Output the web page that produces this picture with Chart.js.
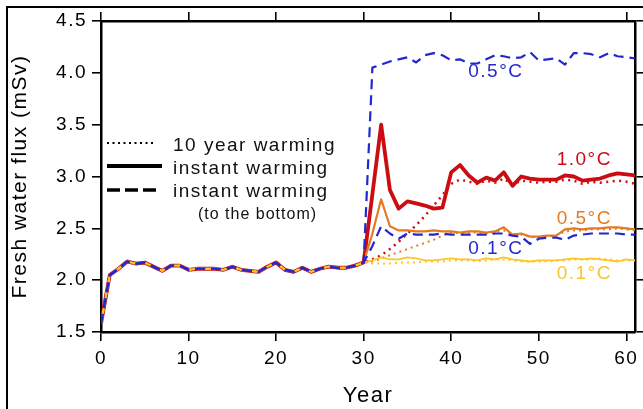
<!DOCTYPE html>
<html>
<head>
<meta charset="utf-8">
<script src="https://cdn.jsdelivr.net/npm/chart.js@4.4.1/dist/chart.umd.min.js"></script>
<style>
  html, body { margin: 0; padding: 0; background: #fff; }
</style>
</head>
<body>
<canvas id="myChart" width="643" height="409"></canvas>
<script>
// years on the x axis
const years = [0, 1, 2, 3, 4, 5, 6, 7, 8, 9, 10, 11, 12, 13, 14, 15, 16, 17, 18, 19, 20,
  21, 22, 23, 24, 25, 26, 27, 28, 29, 30, 31, 32, 33, 34, 35, 36, 37, 38, 39, 40,
  41, 42, 43, 44, 45, 46, 47, 48, 49, 50, 51, 52, 53, 54, 55, 56, 57, 58, 59, 60, 61];
const xTicks = [0, 10, 20, 30, 40, 50, 60];
const yTicks = [1.5, 2.0, 2.5, 3.0, 3.5, 4.0, 4.5];

// control run, years 0-30 (shared by every experiment)
const baseline = [1.58, 2.05, 2.11, 2.18, 2.16, 2.17, 2.13, 2.09, 2.14, 2.14, 2.10,
  2.11, 2.11, 2.11, 2.10, 2.13, 2.10, 2.09, 2.08, 2.13, 2.17,
  2.10, 2.08, 2.12, 2.08, 2.11, 2.13, 2.12, 2.12, 2.14, 2.17];

// years 31-61
const instant10 = [2.83, 3.50, 2.87, 2.69, 2.76, 2.74, 2.72, 2.69, 2.70, 3.04,
  3.11, 3.01, 2.94, 2.99, 2.96, 3.04, 2.91, 3.00, 2.98, 2.97,
  2.97, 2.97, 3.01, 3.00, 2.96, 2.97, 2.98, 3.01, 3.03, 3.02, 3.01];
const ramp10 = [2.20, 2.24, 2.30, 2.37, 2.45, 2.53, 2.62, 2.72, 2.82, 2.93,
  2.97, 2.95, 2.93, 2.96, 2.94, 2.98, 2.92, 2.96, 2.95, 2.94,
  2.95, 2.95, 2.97, 2.96, 2.93, 2.95, 2.94, 2.95, 2.96, 2.95, 2.93];
const instant05 = [2.45, 2.78, 2.52, 2.48, 2.48, 2.47, 2.47, 2.48, 2.47, 2.47,
  2.46, 2.47, 2.47, 2.46, 2.47, 2.51, 2.44, 2.45, 2.42, 2.42,
  2.43, 2.43, 2.49, 2.50, 2.49, 2.50, 2.50, 2.51, 2.51, 2.50, 2.49];
const ramp05 = [2.18, 2.21, 2.24, 2.27, 2.30, 2.33, 2.36, 2.39, 2.43, 2.46,
  2.45, 2.46, 2.46, 2.45, 2.46, 2.48, 2.44, 2.44, 2.42, 2.41,
  2.42, 2.43, 2.47, 2.48, 2.48, 2.49, 2.49, 2.49, 2.50, 2.49, 2.48];
const instant01 = [2.19, 2.22, 2.20, 2.20, 2.22, 2.21, 2.19, 2.19, 2.20, 2.21,
  2.20, 2.20, 2.19, 2.21, 2.20, 2.22, 2.20, 2.19, 2.18, 2.19,
  2.19, 2.19, 2.20, 2.21, 2.20, 2.21, 2.20, 2.19, 2.18, 2.20, 2.19];
const ramp01 = [2.16, 2.16, 2.16, 2.17, 2.17, 2.17, 2.18, 2.18, 2.18, 2.19,
  2.19, 2.19, 2.18, 2.19, 2.20, 2.20, 2.19, 2.18, 2.18, 2.18,
  2.18, 2.19, 2.19, 2.20, 2.20, 2.20, 2.21, 2.20, 2.19, 2.19, 2.19];
const bottom05 = [4.05, 4.08, 4.11, 4.13, 4.15, 4.10, 4.17, 4.19, 4.17, 4.12,
  4.13, 4.09, 4.09, 4.13, 4.17, 4.16, 4.14, 4.15, 4.20, 4.12,
  4.13, 4.14, 4.08, 4.19, 4.19, 4.18, 4.15, 4.19, 4.16, 4.15, 4.14];
const bottom01 = [2.33, 2.52, 2.45, 2.40, 2.45, 2.44, 2.44, 2.44, 2.45, 2.44,
  2.44, 2.44, 2.44, 2.44, 2.45, 2.45, 2.43, 2.42, 2.35, 2.40,
  2.41, 2.41, 2.39, 2.43, 2.44, 2.45, 2.45, 2.45, 2.45, 2.44, 2.44];

// curve labels: text, year, value
const curveLabels = ["0.5°C", "1.0°C", "0.5°C", "0.1°C", "0.1°C"];
const curveLabelX = [45.1, 55.2, 55.2, 45.1, 55.2];
const curveLabelY = [4.01, 3.16, 2.59, 2.30, 2.06];

const RED = "rgb(204, 12, 18)";
const ORANGE = "rgb(228, 122, 34)";
const YELLOW = "rgb(250, 198, 40)";
const BLUE = "rgb(34, 40, 206)";
const curveLabelColor = [BLUE, RED, ORANGE, BLUE, YELLOW];

const FONT = "'Liberation Sans', Arial, Helvetica, sans-serif";

function series(after) {
  return baseline.concat(after);
}

const datasets = [
  { data: series(bottom05), borderColor: BLUE, borderWidth: 2.2, borderDash: [10, 6], order: 0 },
  { data: series(bottom01), borderColor: BLUE, borderWidth: 2.2, borderDash: [10, 6], order: 1 },
  { data: series(ramp01), borderColor: YELLOW, borderWidth: 2, borderDash: [2, 4], order: 2 },
  { data: series(instant01), borderColor: YELLOW, borderWidth: 1.8, order: 3 },
  { data: series(ramp05), borderColor: ORANGE, borderWidth: 2, borderDash: [2, 4], order: 4 },
  { data: series(instant05), borderColor: ORANGE, borderWidth: 2.2, order: 5 },
  { data: series(ramp10), borderColor: RED, borderWidth: 2.5, borderDash: [2, 4.5], order: 6 },
  { data: series(instant10), borderColor: RED, borderWidth: 3.8, order: 7 },
];

const extras = {
  id: "extras",
  beforeDraw(chart) {
    chart.ctx.letterSpacing = "1.5px";
  },
  afterDatasetsDraw(chart) {
    const ctx = chart.ctx;
    const x = chart.scales.x, y = chart.scales.y;
    ctx.save();
    ctx.font = "19px " + FONT;
    ctx.textAlign = "center";
    ctx.textBaseline = "middle";
    for (let i = 0; i < curveLabels.length; i++) {
      ctx.fillStyle = curveLabelColor[i];
      ctx.fillText(curveLabels[i], x.getPixelForValue(curveLabelX[i]), y.getPixelForValue(curveLabelY[i]));
    }
    ctx.restore();
  },
  afterDraw(chart) {
    const ctx = chart.ctx;
    ctx.save();
    // legend
    ctx.strokeStyle = "#000";
    ctx.lineWidth = 2;
    ctx.setLineDash([2, 3.5]);
    ctx.beginPath(); ctx.moveTo(107, 143); ctx.lineTo(154, 143); ctx.stroke();
    ctx.lineWidth = 4;
    ctx.setLineDash([]);
    ctx.beginPath(); ctx.moveTo(107, 166); ctx.lineTo(162, 166); ctx.stroke();
    ctx.lineWidth = 3.5;
    ctx.setLineDash([13, 5]);
    ctx.beginPath(); ctx.moveTo(107, 190); ctx.lineTo(157, 190); ctx.stroke();
    ctx.setLineDash([]);
    ctx.fillStyle = "#111";
    ctx.textAlign = "left";
    ctx.textBaseline = "alphabetic";
    ctx.font = "19px " + FONT;
    ctx.fillText("10 year warming", 173, 151);
    ctx.fillText("instant warming", 173, 174);
    ctx.fillText("instant warming", 173, 197);
    ctx.font = "16px " + FONT;
    ctx.letterSpacing = "1px";
    ctx.fillText("(to the bottom)", 198, 219);
    // outer frame
    ctx.lineWidth = 2;
    ctx.beginPath();
    ctx.moveTo(7, 409); ctx.lineTo(7, 7); ctx.lineTo(643, 7);
    ctx.stroke();
    ctx.restore();
  },
};

const axisGrid = { display: true, drawOnChartArea: false, drawTicks: true, tickLength: 9, color: "#000", lineWidth: 1.6 };
const axisBorder = { display: true, color: "#000", width: 2.5 };
const tickFont = { family: FONT, size: 19 };

const config = {
  type: "line",
  data: { labels: years, datasets: datasets },
  options: {
    responsive: false,
    animation: false,
    layout: { padding: { left: 0, top: 12, right: 0, bottom: 0 } },
    elements: { point: { radius: 0 }, line: { tension: 0, borderCapStyle: "butt", borderJoinStyle: "round" } },
    plugins: { legend: { display: false }, tooltip: { enabled: false } },
    scales: {
      x: {
        type: "linear", position: "bottom", min: 0, max: 61,
        afterBuildTicks: (s) => { s.ticks = xTicks.map((v) => ({ value: v })); },
        afterFit: (s) => { s.height = 77; },
        ticks: { font: tickFont, color: "#000", padding: 6, maxRotation: 0 },
        grid: axisGrid, border: axisBorder,
        title: { display: true, text: "Year", color: "#000", font: { family: FONT, size: 22 }, padding: { top: 4, bottom: 0 } },
      },
      xTop: {
        axis: "x", type: "linear", position: "top", min: 0, max: 61,
        afterBuildTicks: (s) => { s.ticks = xTicks.map((v) => ({ value: v })); },
        afterFit: (s) => { s.height = 9; },
        ticks: { display: false },
        grid: axisGrid, border: axisBorder,
      },
      y: {
        type: "linear", position: "left", min: 1.5, max: 4.5,
        afterBuildTicks: (s) => { s.ticks = yTicks.map((v) => ({ value: v })); },
        afterFit: (s) => { s.width = 101; },
        ticks: { font: tickFont, color: "#000", padding: 5, callback: (v) => v.toFixed(1) },
        grid: axisGrid, border: axisBorder,
        title: { display: true, text: "Fresh water flux (mSv)", color: "#000", font: { family: FONT, size: 21 }, padding: { top: 8, bottom: 0 } },
      },
      yRight: {
        axis: "y", type: "linear", position: "right", min: 1.5, max: 4.5,
        afterBuildTicks: (s) => { s.ticks = yTicks.map((v) => ({ value: v })); },
        afterFit: (s) => { s.width = 7; },
        ticks: { display: false },
        grid: axisGrid, border: axisBorder,
      },
    },
  },
  plugins: [extras],
};

const myChart = new Chart(document.getElementById("myChart"), config);
</script>
</body>
</html>
